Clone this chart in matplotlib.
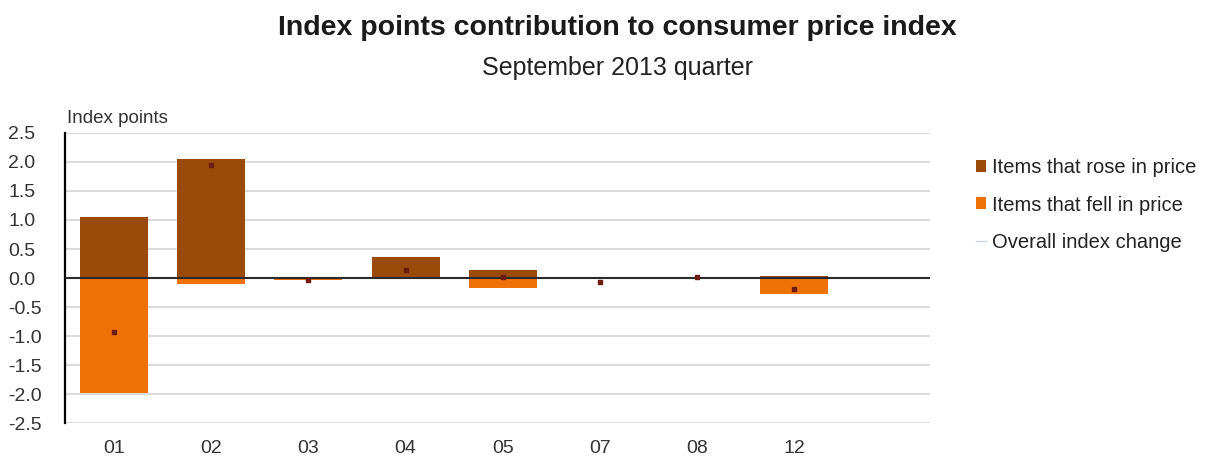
import numpy as np
import matplotlib.pyplot as plt
from matplotlib.patches import Patch
from matplotlib.lines import Line2D

plt.rcParams['font.family'] = ['Liberation Sans', 'DejaVu Sans']

groups = ['01', '02', '03', '04', '05', '07', '08', '12']
rose = [1.05, 2.05, 0.01, 0.36, 0.14, 0.02, 0.01, 0.04]
fell = [-1.98, -0.11, -0.03, -0.02, -0.17, -0.02, -0.01, -0.28]
overall = [-0.93, 1.94, -0.03, 0.13, 0.02, -0.06, 0.01, -0.19]

col_rose = '#9a4b0a'
col_fell = '#ee7206'
col_mark = '#6e1c12'

fig = plt.figure(figsize=(12.1, 4.63), dpi=100)
ax = fig.add_axes([0.054, 0.086, 0.715, 0.627])

x = np.arange(len(groups))
ax.bar(x, rose, width=0.7, color=col_rose, zorder=2)
ax.bar(x, fell, width=0.7, color=col_fell, zorder=2)
ax.plot(x, overall, linestyle='none', marker='s', markersize=3.5,
        color=col_mark, zorder=4)
ax.axhline(0, color='#2a2a2a', lw=1.5, zorder=3)

ax.set_xlim(-0.5, 8.4)
ax.set_ylim(-2.5, 2.5)
yt = np.arange(-2.5, 2.51, 0.5)
ax.set_yticks(yt)
ax.set_yticklabels(['%.1f' % v for v in yt])
ax.set_xticks(x)
ax.set_xticklabels(groups)
ax.yaxis.grid(True, color='#d4d4d4', lw=1.2, zorder=0)
ax.set_axisbelow(True)

for s in ['top', 'right', 'bottom']:
    ax.spines[s].set_visible(False)
ax.spines['left'].set_color('black')
ax.spines['left'].set_linewidth(1.6)
ax.tick_params(axis='both', length=0, labelsize=14, colors='#333333')
ax.tick_params(axis='y', pad=41)
ax.tick_params(axis='x', pad=12)
for lab in ax.get_yticklabels():
    lab.set_horizontalalignment('left')

ax.text(0.002, 1.02, 'Index points', transform=ax.transAxes,
        fontsize=13.5, color='#333333', va='bottom')

fig.text(0.51, 0.94, 'Index points contribution to consumer price index',
         ha='center', va='center', fontsize=20.5, fontweight='bold', color='#1a1a1a')
fig.text(0.51, 0.853, 'September 2013 quarter',
         ha='center', va='center', fontsize=18, color='#222222')

handles = [
    Patch(facecolor=col_rose, label='Items that rose in price'),
    Patch(facecolor=col_fell, label='Items that fell in price'),
    Line2D([], [], color='#c8d4e4', lw=1, label='Overall index change'),
]
fig.legend(handles=handles, loc='upper left', bbox_to_anchor=(0.792, 0.697),
           frameon=False, fontsize=14.5, handlelength=0.45, handleheight=0.55,
           handletextpad=0.3, labelspacing=0.9, labelcolor='#222222')

fig.savefig('out.png', dpi=100)
